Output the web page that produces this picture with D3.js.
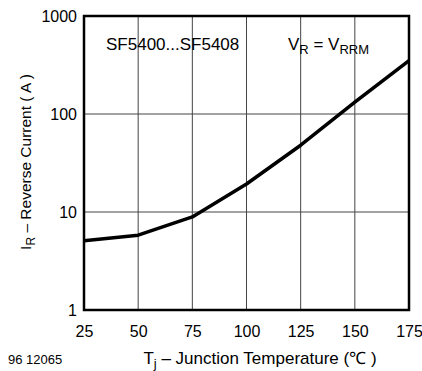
<!DOCTYPE html>
<html><head><meta charset="utf-8">
<script src="https://cdn.jsdelivr.net/npm/d3@7"></script>
<style>body{margin:0;background:#fff}svg{display:block}text{font-family:"Liberation Sans",Arial,sans-serif;fill:#000}</style>
</head><body><svg id="c" width="422" height="371"></svg>
<script>
const temps = [25, 50, 75, 100, 125, 150, 175];
const current = [5.1, 5.8, 8.9, 19.3, 48, 132, 350];
const xTicks = [25, 50, 75, 100, 125, 150, 175];
const yTicks = [1, 10, 100, 1000];

const svg = d3.select("#c");
const m = {l: 84, r: 409, t: 16, b: 310};
const x = d3.scaleLinear().domain([25, 175]).range([m.l, m.r]);
const y = d3.scaleLog().domain([1, 1000]).range([m.b, m.t]);

const g = svg.append("g");
g.selectAll(".vg").data(xTicks.slice(1, -1)).enter().append("line")
  .attr("x1", d => x(d)).attr("x2", d => x(d)).attr("y1", m.t).attr("y2", m.b)
  .attr("stroke", "#444").attr("stroke-width", 1);
g.selectAll(".hg").data(yTicks.slice(1, -1)).enter().append("line")
  .attr("y1", d => y(d)).attr("y2", d => y(d)).attr("x1", m.l).attr("x2", m.r)
  .attr("stroke", "#444").attr("stroke-width", 1);

const line = d3.line().x((d, i) => x(temps[i])).y(d => y(d));
svg.append("path").datum(current).attr("d", line).attr("fill", "none")
  .attr("stroke", "#000").attr("stroke-width", 3.5).attr("stroke-linejoin", "round");

svg.append("rect").attr("x", m.l).attr("y", m.t).attr("width", m.r - m.l).attr("height", m.b - m.t)
  .attr("fill", "none").attr("stroke", "#000").attr("stroke-width", 2.5);

const xAxis = d3.axisBottom(x).tickValues(xTicks).tickSize(0).tickPadding(0).tickFormat(d3.format("d"));
const xa = svg.append("g").attr("transform", `translate(0,${m.b})`).call(xAxis);
xa.select(".domain").remove();
xa.selectAll("text").attr("dy", null).attr("y", 27).style("font-size", "16px").attr("font-family", null);

const yAxis = d3.axisLeft(y).tickValues(yTicks).tickSize(0).tickPadding(0).tickFormat(d3.format("d"));
const ya = svg.append("g").attr("transform", `translate(${m.l},0)`).call(yAxis);
ya.select(".domain").remove();
ya.selectAll("text").attr("x", -7).attr("dy", "0.36em").style("font-size", "16px").attr("font-family", null);

// annotations
svg.append("text").attr("x", 106).attr("y", 50).style("font-size", "17px").text("SF5400...SF5408");
const vr = svg.append("text").attr("x", 288).attr("y", 50).style("font-size", "17px");
vr.append("tspan").text("V");
vr.append("tspan").attr("dy", 4).style("font-size", "13px").text("R");
vr.append("tspan").attr("dy", -4).text(" = V");
vr.append("tspan").attr("dy", 4).style("font-size", "13px").text("RRM");

// axis titles
const xt = svg.append("text").attr("x", 260).attr("y", 364).attr("text-anchor", "middle").style("font-size", "17px");
xt.append("tspan").text("T");
xt.append("tspan").attr("dy", 4).style("font-size", "13px").text("j");
xt.append("tspan").attr("dy", -4).text(" – Junction Temperature (℃ )");

const yt = svg.append("text").attr("transform", "translate(31,162) rotate(-90)").attr("text-anchor", "middle").style("font-size", "15.5px");
yt.append("tspan").text("I");
yt.append("tspan").attr("dy", 4).style("font-size", "12px").text("R");
yt.append("tspan").attr("dy", -4).text(" – Reverse Current ( A )");

svg.append("text").attr("x", 8).attr("y", 364).style("font-size", "13px").text("96 12065");
</script></body></html>
